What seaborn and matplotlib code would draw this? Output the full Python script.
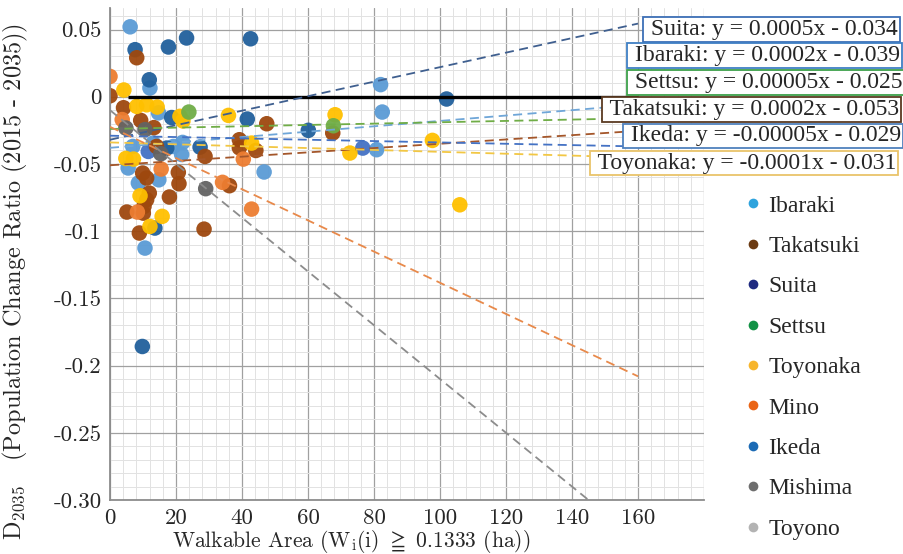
import numpy as np
import pandas as pd
import seaborn as sns
import matplotlib.pyplot as plt
from matplotlib.lines import Line2D
from matplotlib.font_manager import FontProperties

# --- points (walkable area, D2035) ---
ibaraki_x = [6.1, 12.1, 14.7, 82.0, 82.5, 80.8, 6.9, 13.1, 22.0, 21.7, 19.2, 46.7, 5.5, 8.6, 14.8, 10.6]
ibaraki_y = [0.052, 0.0065, -0.012, 0.009, -0.0114, -0.0394, -0.037, -0.0345, -0.034, -0.043, -0.037, -0.056, -0.053, -0.0642, -0.0618, -0.1126]

suita_x = [7.6, 17.7, 23.2, 42.6, 11.9, 18.7, 41.6, 27.3, 60.1, 102.0, 13.6, 9.8, 17.2]
suita_y = [0.035, 0.037, 0.0437, 0.0431, 0.0126, -0.0155, -0.0166, -0.0375, -0.025, -0.0017, -0.0977, -0.1858, -0.0382]

ikeda_x = [11.6, 76.6]
ikeda_y = [-0.0407, -0.0382]

takatsuki_x = [8.1, 0.0, 4.1, 9.3, 13.3, 14.1, 47.5, 67.5, 39.2, 39.2, 44.2, 28.8, 9.9, 11.1, 20.7, 20.9,
               36.2, 11.9, 11.1, 10.3, 18.0, 5.1, 10.1, 28.5, 8.9]
takatsuki_y = [0.029, 0.0007, -0.0082, -0.0176, -0.023, -0.037, -0.0201, -0.027, -0.032, -0.038, -0.040, -0.0444,
               -0.0568, -0.0605, -0.0563, -0.0647, -0.0662, -0.0717, -0.0766, -0.0816, -0.0746, -0.0858, -0.0866,
               -0.0985, -0.1014]

mino_x = [0.0, 3.7, 40.4, 15.5, 34.1, 42.9, 8.3]
mino_y = [0.0151, -0.017, -0.0464, -0.0538, -0.0637, -0.0836, -0.0858]

toyonaka_x = [4.2, 8.1, 11.1, 14.3, 22.1, 35.9, 42.9, 4.8, 7.1, 9.1, 15.8, 12.1, 68.2, 97.7, 72.7, 106.0, 21.2]
toyonaka_y = [0.005, -0.0072, -0.006, -0.0077, -0.018, -0.0139, -0.0345, -0.0459, -0.0464, -0.0737, -0.089,
              -0.0965, -0.0134, -0.0325, -0.0419, -0.0804, -0.0146]

settsu_x = [23.9, 67.7]
settsu_y = [-0.0114, -0.0216]

mishima_x = [4.8, 10.6, 15.4, 29.0]
mishima_y = [-0.0233, -0.0245, -0.0424, -0.0684]

# --- fitted lines (slope, intercept as drawn) ---
fit_cities = ['Suita', 'Ibaraki', 'Settsu', 'Takatsuki', 'Ikeda', 'Toyonaka', 'Mino', 'Mishima']
fit_slope = [0.00054, 0.0002, 0.00005, 0.00016, -0.00005, -0.00007, -0.00116, -0.002]
fit_icept = [-0.032, -0.038, -0.024, -0.051, -0.029, -0.034, -0.0224, -0.010]
fit_xmax = 160

eq_labels = ['Suita: y = 0.0005x - 0.034', 'Ibaraki: y = 0.0002x - 0.039', 'Settsu: y = 0.00005x - 0.025',
             'Takatsuki: y = 0.0002x - 0.053', 'Ikeda: y = -0.00005x - 0.029', 'Toyonaka: y = -0.0001x - 0.031']

legend_cities = ['Ibaraki', 'Takatsuki', 'Suita', 'Settsu', 'Toyonaka', 'Mino', 'Ikeda', 'Mishima', 'Toyono']

ytick_vals = [0.05, 0, -0.05, -0.1, -0.15, -0.2, -0.25, -0.30]
ytick_text = ['0.05', '0', '-0.05', '-0.1', '-0.15', '-0.2', '-0.25', '-0.30']
xtick_vals = [0, 20, 40, 60, 80, 100, 120, 140, 160, 180]
xtick_text = ['0', '20', '40', '60', '80', '100', '120', '140', '160', '']

# styles
point_colors = {'Ibaraki': '#5B9BD5', 'Suita': '#21609C', 'Ikeda': '#4472C4', 'Takatsuki': '#9E480E',
                'Mino': '#ED7D31', 'Toyonaka': '#FFC000', 'Settsu': '#70AD47', 'Mishima': '#636363'}
line_colors = {'Suita': '#3F5F8F', 'Ibaraki': '#6FA6D8', 'Settsu': '#70AD47', 'Takatsuki': '#A4562A',
               'Ikeda': '#4472C4', 'Toyonaka': '#F2C744', 'Mino': '#E8894A', 'Mishima': '#8C8C8C'}
box_edges = ['#3D6FB6', '#3F7FC4', '#3DA04A', '#5A3A22', '#4F81BD', '#E9C46A']
box_left_px = [643, 627, 627, 602, 623, 590]
box_mid_px = [29.5, 55.5, 82.5, 109.5, 136, 163]
legend_colors = ['#2EA3DD', '#6B3A12', '#1F2A80', '#129245', '#F7B52C', '#EA6415', '#1C6BB5', '#6E6E6E', '#B3B3B3']

df = pd.concat([
    pd.DataFrame({'city': 'Ibaraki', 'x': ibaraki_x, 'y': ibaraki_y}),
    pd.DataFrame({'city': 'Suita', 'x': suita_x, 'y': suita_y}),
    pd.DataFrame({'city': 'Ikeda', 'x': ikeda_x, 'y': ikeda_y}),
    pd.DataFrame({'city': 'Takatsuki', 'x': takatsuki_x, 'y': takatsuki_y}),
    pd.DataFrame({'city': 'Mino', 'x': mino_x, 'y': mino_y}),
    pd.DataFrame({'city': 'Toyonaka', 'x': toyonaka_x, 'y': toyonaka_y}),
    pd.DataFrame({'city': 'Settsu', 'x': settsu_x, 'y': settsu_y}),
    pd.DataFrame({'city': 'Mishima', 'x': mishima_x, 'y': mishima_y}),
], ignore_index=True)

sns.set_style('white')
plt.rcParams['font.family'] = ['Liberation Serif', 'DejaVu Serif']
plt.rcParams['mathtext.fontset'] = 'cm'
plt.rcParams['axes.unicode_minus'] = False
cm = ['cmr10', 'DejaVu Serif']
times = FontProperties(family='Liberation Serif', size=17)

W, H = 904, 554
fig = plt.figure(figsize=(W / 100, H / 100), dpi=100)
ax = fig.add_axes([110 / W, 54 / H, 594 / W, 492 / H])

sns.scatterplot(data=df, x='x', y='y', hue='city', palette=point_colors, s=125, linewidth=0,
                alpha=0.95, legend=False, ax=ax, zorder=2)

ax.hlines(0, 5.5, fit_xmax, color='black', lw=2.4, zorder=3)

xs = np.array([0, fit_xmax])
for c, m, b in zip(fit_cities, fit_slope, fit_icept):
    ax.plot(xs, m * xs + b, ls=(0, (5, 3)), lw=1.3, color=line_colors[c], zorder=4)

ax.set_xlim(0, 180)
ax.set_ylim(-0.30, 0.066)
ax.set_xticks(xtick_vals)
ax.set_xticklabels(xtick_text, fontfamily=cm, fontsize=16.5)
ax.set_yticks(ytick_vals)
ax.set_yticklabels(ytick_text, fontfamily=cm, fontsize=16.5)
ax.set_xticks(np.arange(0, 181, 4), minor=True)
ax.set_yticks(np.arange(-0.30, 0.066, 0.01), minor=True)
ax.grid(which='major', color='#A0A0A0', lw=0.9)
ax.grid(which='minor', color='#E2E2E2', lw=0.7)
ax.set_axisbelow(True)
ax.tick_params(which='major', length=4, width=1, color='#808080', pad=2)
ax.tick_params(which='minor', length=0)
for s in ['top', 'right']:
    ax.spines[s].set_visible(False)
for s in ['left', 'bottom']:
    ax.spines[s].set_color('#8C8C8C')
    ax.spines[s].set_linewidth(1.3)

ax.set_xlabel(r'Walkable Area (W$_\mathrm{i}$(i) $\geqq$ 0.1333 (ha))', fontfamily=cm, fontsize=15.5)
ax.xaxis.set_label_coords(0.406, -0.056)
ax.set_ylabel(r'D$_{2035}$   (Population Change Ratio (2015 - 2035))', fontfamily=cm, fontsize=17.5)
ax.yaxis.set_label_coords(-0.135, 0.445)

for lab, ec, lx, my in zip(eq_labels, box_edges, box_left_px, box_mid_px):
    fig.text((lx + 2) / W, 1 - my / H, ' ' + lab, ha='left', va='center', fontproperties=times,
             bbox=dict(boxstyle='square,pad=0.08', fc='white', ec=ec, lw=1.3), zorder=10)

handles = [Line2D([], [], ls='', marker='o', markersize=7, markeredgewidth=0, color=c) for c in legend_colors]
fig.legend(handles, legend_cities, loc='upper left', bbox_to_anchor=(744 / W, 1 - 195 / H),
           frameon=False, prop=times, handlelength=0.8, handletextpad=0.23,
           labelspacing=0.8, borderpad=0, borderaxespad=0)

fig.savefig('out.png', dpi=100)
